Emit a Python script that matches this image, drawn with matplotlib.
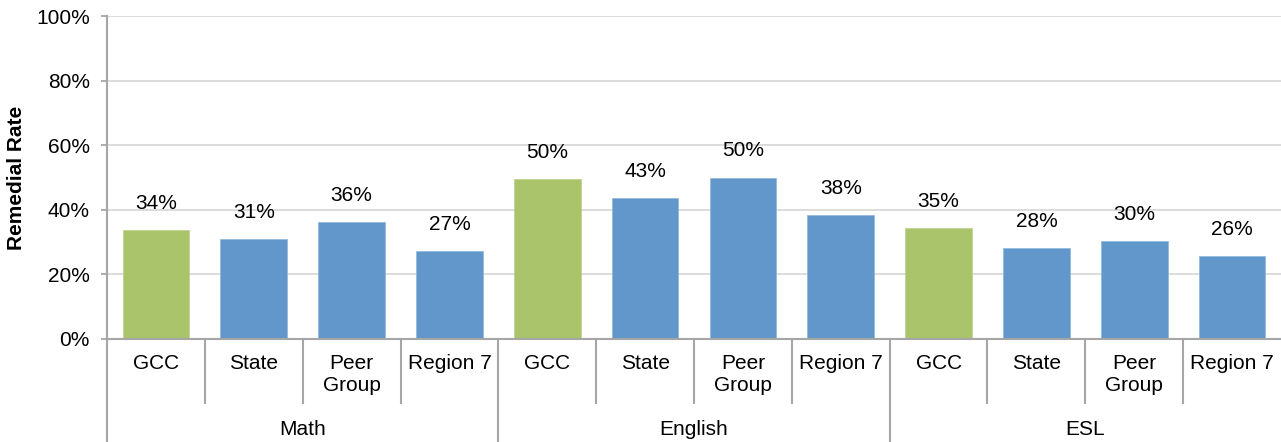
import matplotlib
matplotlib.use("Agg")
import matplotlib.pyplot as plt
from matplotlib.ticker import FuncFormatter

plt.rcParams['font.family'] = ['Liberation Sans', 'DejaVu Sans']

groups = ["Math", "English", "ESL"]
categories = ["GCC", "State", "Peer\nGroup", "Region 7"]
values = [
    [33.8, 31.0, 36.2, 27.3],
    [49.6, 43.5, 50.0, 38.4],
    [34.4, 28.1, 30.2, 25.8],
]
labels = [
    ["34%", "31%", "36%", "27%"],
    ["50%", "43%", "50%", "38%"],
    ["35%", "28%", "30%", "26%"],
]
green = "#A9C46A"
blue = "#6197CA"
FS = 15

fig = plt.figure(figsize=(12.81, 4.42), dpi=100)
ax = fig.add_axes([107/1281, 103/442, 1 - 107/1281, (339-16)/442])

n = len(categories)
xs, hs, cs, es, ls = [], [], [], [], []
for g in range(len(groups)):
    for c in range(n):
        xs.append(g*n + c)
        hs.append(values[g][c])
        cs.append(green if c == 0 else blue)
        es.append("#bcd28c" if c == 0 else "#8fb6dc")
        ls.append(labels[g][c])

ax.bar(xs, hs, width=0.68, color=cs, edgecolor=es, linewidth=0.5, zorder=3)
for x, h, l in zip(xs, hs, ls):
    ax.text(x, h + 5.3, l, ha='center', va='bottom', fontsize=FS, color='black')

ax.set_xlim(-0.5, len(xs) - 0.5)
ax.set_ylim(0, 100)
ax.set_yticks([0, 20, 40, 60, 80, 100])
ax.yaxis.set_major_formatter(FuncFormatter(lambda v, p: f"{int(v)}%"))
ax.tick_params(axis='y', labelsize=FS, length=4.3, width=1.3, color='#a6a6a6', pad=8)
ax.grid(axis='y', color='#d9d9d9', linewidth=1.3, zorder=0)
ax.set_xticks([])
for s in ['top', 'right']:
    ax.spines[s].set_visible(False)
for s in ['left', 'bottom']:
    ax.spines[s].set_color('#a6a6a6')
    ax.spines[s].set_linewidth(1.5)
ax.spines['bottom'].set_zorder(4)

ax.set_ylabel("Remedial Rate", fontsize=FS, fontweight='bold')
ax.yaxis.label.set_va('center')
ax.yaxis.set_label_coords(-90/1174, 0.5)

trans = ax.get_xaxis_transform()
axh = (339-16)
for x, c in zip(xs, [c for g in range(len(groups)) for c in range(n)]):
    ax.text(x, -15/axh, categories[c], transform=trans, ha='center', va='top',
            fontsize=FS, linespacing=1.22)
for i in range(len(xs)):
    b = i - 0.5
    depth = 103 if i % n == 0 else 64
    ax.plot([b, b], [0, -depth/axh], transform=trans, color='#a6a6a6',
            lw=1.5, clip_on=False, zorder=4)
for g, name in enumerate(groups):
    ax.text(g*n + (n-1)/2, -81/axh, name, transform=trans, ha='center', va='top',
            fontsize=FS)

fig.savefig("out.png", dpi=100)
